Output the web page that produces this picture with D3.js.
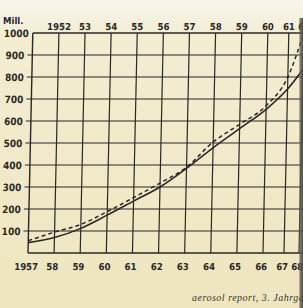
<!DOCTYPE html>
<html><head><meta charset="utf-8">
<script src="https://cdn.jsdelivr.net/npm/d3@7"></script>
<style>html,body{margin:0;padding:0;background:#f1e9c8;}svg{display:block;}</style>
</head><body>
<svg id="c" width="303" height="308"></svg>
<script>
// ---- data ----
const years = [1957,1958,1959,1960,1961,1962,1963,1964,1965,1966,1967,1968];
const bottomLabels = ["1957","58","59","60","61","62","63","64","65","66","67","68"];
const topYears = [1958,1959,1960,1961,1962,1963,1964,1965,1966,1967,1968];
const topLabels = ["1952","53","54","55","56","57","58","59","60","61","62"];
const solidSeries  = [47, 70, 112, 172, 236, 300, 385, 478, 565, 653, 745, 835];
const dashedSeries = [56, 95, 130, 188, 252, 318, 390, 505, 585, 670, 800, 1000];
const yTicks = [100,200,300,400,500,600,700,800,900];
const yTop = 1000;

// ---- layout ----
const W = 303, H = 308;
const plotBottom = 253, plotTop = 33, plotLeft = 28;
const ink = "#2a2826";
const svg = d3.select("#c");

const defs = svg.append("defs");
const bg = defs.append("linearGradient").attr("id","bg").attr("x1",0).attr("y1",0).attr("x2",0).attr("y2",1);
bg.append("stop").attr("offset","0").attr("stop-color","#f7f5ee");
bg.append("stop").attr("offset","0.12").attr("stop-color","#f3edd2");
bg.append("stop").attr("offset","1").attr("stop-color","#efe5bf");
svg.append("rect").attr("width",W).attr("height",H).attr("fill","url(#bg)");

// page-curl: x spacing compresses near the gutter
const x = d3.scaleLinear().domain([1957,1966,1967,1968]).range([plotLeft, 263, 284, 299]);
const y = d3.scaleLinear().domain([0,1000]).range([plotBottom, plotTop]);

const g = svg.append("g")
  .attr("transform", `translate(0,${plotBottom}) skewX(-1.25) translate(0,${-plotBottom})`);

// horizontal grid lines
g.selectAll("line.h").data(yTicks).join("line")
  .attr("x1", plotLeft-5).attr("x2", W+10)
  .attr("y1", d=>y(d)).attr("y2", d=>y(d))
  .attr("stroke", ink).attr("stroke-width",1.2);
g.append("line").attr("x1",plotLeft).attr("x2",W+10).attr("y1",y(yTop)).attr("y2",y(yTop))
  .attr("stroke",ink).attr("stroke-width",1.3);
g.append("line").attr("x1",plotLeft).attr("x2",W+10).attr("y1",y(0)).attr("y2",y(0))
  .attr("stroke",ink).attr("stroke-width",1.4);

// vertical grid lines
g.selectAll("line.v").data(years).join("line")
  .attr("x1", d=>x(d)).attr("x2", d=>x(d))
  .attr("y1", y(0)).attr("y2", y(yTop))
  .attr("stroke", ink).attr("stroke-width", (d,i)=> i===0?1.4:1.2);

const font = "'DejaVu Sans Condensed','DejaVu Sans',sans-serif";

// y labels
g.selectAll("text.y").data(yTicks).join("text")
  .attr("x", plotLeft-8).attr("y", d=>y(d)).attr("dy","0.36em")
  .attr("text-anchor","end").attr("font-family",font).attr("font-weight","bold")
  .attr("font-size",10).attr("fill",ink).text(d=>d);
g.append("text").attr("x", plotLeft-4).attr("y", y(yTop)).attr("dy","0.36em")
  .attr("text-anchor","end").attr("font-family",font).attr("font-weight","bold")
  .attr("font-size",10).attr("fill",ink).text(yTop);

// bottom labels
g.selectAll("text.b").data(years).join("text")
  .attr("x", d=>x(d)-1.5).attr("y", plotBottom+17)
  .attr("text-anchor","middle").attr("font-family",font).attr("font-weight","bold")
  .attr("font-size",9.5).attr("fill",ink).text((d,i)=>bottomLabels[i]);

// top labels
g.selectAll("text.t").data(topYears).join("text")
  .attr("x", d=>x(d)).attr("y", plotTop-3)
  .attr("text-anchor","middle").attr("font-family",font).attr("font-weight","bold")
  .attr("font-size",9.5).attr("fill",ink).text((d,i)=>topLabels[i]);

// curves
const line = d3.line().x((d,i)=>x(years[i])).y(d=>y(d)).curve(d3.curveMonotoneX);
g.append("path").attr("d", line(solidSeries)).attr("fill","none")
  .attr("stroke",ink).attr("stroke-width",1.6);
g.append("path").attr("d", line(dashedSeries)).attr("fill","none")
  .attr("stroke",ink).attr("stroke-width",1.5).attr("stroke-dasharray","4,3");

// unit label
svg.append("text").attr("x",3).attr("y",23.5).attr("font-family",font).attr("font-weight","bold")
  .attr("font-size",9.5).attr("fill",ink).text("Mill.");

// source line
svg.append("text").attr("x",192).attr("y",301).attr("font-family","'Liberation Serif','DejaVu Serif',serif")
  .attr("font-style","italic").attr("font-size",10).attr("letter-spacing",0.5)
  .attr("fill","#3a3630").text("aerosol report, 3. Jahrgang");

// gutter shadow at the right edge
const sh = defs.append("linearGradient").attr("id","sh").attr("x1",0).attr("y1",0).attr("x2",1).attr("y2",0);
sh.append("stop").attr("offset","0").attr("stop-color","#6d6a5e").attr("stop-opacity",0);
sh.append("stop").attr("offset","0.35").attr("stop-color","#5e5b52").attr("stop-opacity",0.75);
sh.append("stop").attr("offset","1").attr("stop-color","#48463f").attr("stop-opacity",0.95);
svg.append("rect").attr("x",298.5).attr("y",18).attr("width",4.5).attr("height",H-18).attr("fill","url(#sh)");
</script>
</body></html>
